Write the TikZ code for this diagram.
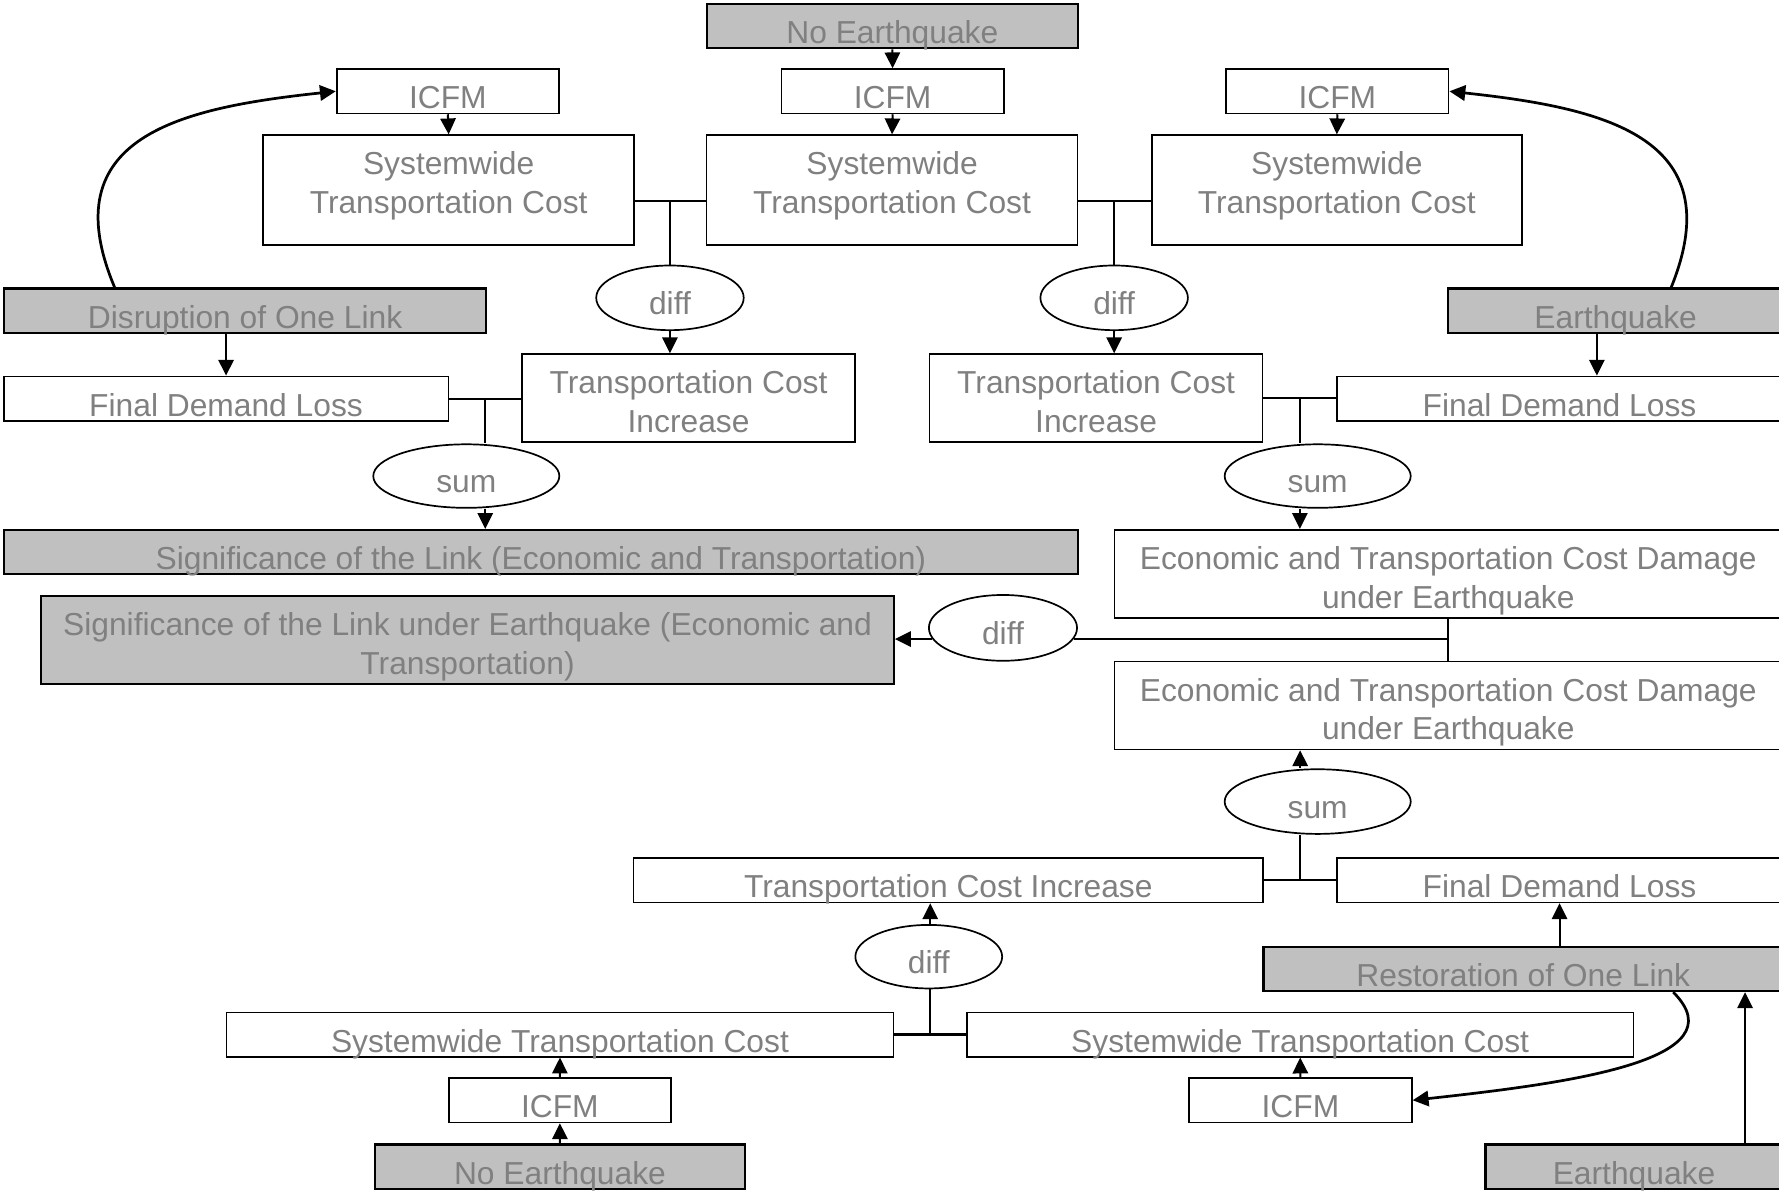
\documentclass[tikz,border=0pt]{standalone}
\usepackage{fontspec}
\setmainfont{Liberation Sans}
\usetikzlibrary{%
	arrows.meta,%
	shapes.geometric,%
	calc
}
\definecolor{txtgray}{RGB}{128,128,128}
\definecolor{boxgray}{RGB}{192,192,192}
\newcommand{\twolines}[2]{\vtop{\halign{\hfil##\hfil\cr #1\cr #2\cr}}}

\begin{document}
\begin{tikzpicture}[x=1pt,y=-1pt,
		box/.style={draw, rectangle, inner sep=0pt, line width=1.5pt, text=txtgray,
			text height=35pt, text depth=4pt, anchor=north west,
			font=\fontsize{28}{34}\selectfont},
		shaded/.style={box, fill=boxgray, line width=2pt},
		dbl/.style={text depth=42.5pt},
		tall/.style={text depth=61.6pt},
		op/.style={draw, ellipse, inner sep=0pt, line width=1.5pt, text=txtgray,
			text height=29pt, text depth=0pt, font=\fontsize{28}{34}\selectfont},
		link/.style={line width=2pt},
		arr/.style={-{Triangle[length=14pt,width=13.5pt]}, line width=1.8pt},
		sweep/.style={arr, line width=2.4pt}
	]
		\path[use as bounding box] (0,0) rectangle (1568,1050);
		\clip (0,0) rectangle (1568,1050);

		% Upper part: systemwide costs
		\node[shaded, minimum width=327pt] (noEqT) at (622,2.5) {No Earthquake};
		\node[box, minimum width=196pt] (icfmL) at (296,60.2) {ICFM};
		\node[box, minimum width=196pt] (icfmM) at (688,60.2) {ICFM};
		\node[box, minimum width=196pt] (icfmR) at (1080,60.2) {ICFM};
		\node[box, tall, minimum width=327pt] (swL) at (231.2,118.4) {\twolines{Systemwide}{Transportation Cost}};
		\node[box, tall, minimum width=327pt] (swM) at (622,118.4) {\twolines{Systemwide}{Transportation Cost}};
		\node[box, tall, minimum width=326pt] (swR) at (1014.5,118.4) {\twolines{Systemwide}{Transportation Cost}};
		\node[op, minimum width=130pt, minimum height=57pt] (diffL) at (590.5,262.5) {diff};
		\node[op, minimum width=130pt, minimum height=57pt] (diffR) at (982,262.5) {diff};

		% Link disruption and earthquake
		\node[shaded, minimum width=425pt] (disrupt) at (2.5,253.2) {Disruption of One Link};
		\node[shaded, minimum width=295pt] (eqT) at (1275.5,253.2) {Earthquake};
		\node[box, minimum width=392pt] (fdlL) at (2.5,331.1) {Final Demand Loss};
		\node[box, dbl, minimum width=293.5pt] (tciL) at (459.4,311.4) {\twolines{Transportation Cost}{Increase}};
		\node[box, dbl, minimum width=293.5pt] (tciR) at (818.6,311.4) {\twolines{Transportation Cost}{Increase}};
		\node[box, minimum width=392pt] (fdlR) at (1177.8,331.1) {Final Demand Loss};
		\node[op, minimum width=164pt, minimum height=56pt] (sumL) at (411,419.6) {sum};
		\node[op, minimum width=164pt, minimum height=56pt] (sumR) at (1161.4,419.6) {sum};

		% Significance
		\node[shaded, minimum width=946.5pt] (sigLink) at (2.5,466.2) {Significance of the Link (Economic and Transportation)};
		\node[box, dbl, minimum width=588.5pt] (econA) at (981.5,466.2) {\twolines{Economic and Transportation Cost Damage}{under Earthquake}};
		\node[shaded, dbl, minimum width=751.4pt] (sigEq) at (35.4,524.4) {\twolines{Significance of the Link under Earthquake (Economic and}{Transportation)}};
		\node[op, minimum width=130.6pt, minimum height=58pt] (diffM) at (884,553.4) {diff};
		\node[box, dbl, minimum width=588.5pt] (econB) at (981.5,582.3) {\twolines{Economic and Transportation Cost Damage}{under Earthquake}};

		% Lower part: restoration
		\node[op, minimum width=164pt, minimum height=57pt] (sumB) at (1161.4,706.5) {sum};
		\node[box, minimum width=555pt] (tciLong) at (557.6,755.6) {Transportation Cost Increase};
		\node[box, minimum width=392pt] (fdlB) at (1177.8,755.6) {Final Demand Loss};
		\node[op, minimum width=129.4pt, minimum height=56pt] (diffB) at (818.6,843.2) {diff};
		\node[shaded, minimum width=458pt] (restLink) at (1112.6,833.5) {Restoration of One Link};
		\node[box, minimum width=588pt] (swBL) at (198.8,891.6) {Systemwide Transportation Cost};
		\node[box, minimum width=587.4pt] (swBR) at (851.5,891.6) {Systemwide Transportation Cost};
		\node[box, minimum width=196pt] (icfmBL) at (394.7,949.5) {ICFM};
		\node[box, minimum width=196.3pt] (icfmBR) at (1047.3,949.5) {ICFM};
		\node[shaded, minimum width=326.3pt] (noEqB) at (329.4,1007.7) {No Earthquake};
		\node[shaded, minimum width=261.6pt] (eqB) at (1308.4,1007.7) {Earthquake};

		% Connectors, upper part
		\draw[arr] (noEqT.south) -- (icfmM.north);
		\draw[arr] (icfmL.south) -- (swL.north);
		\draw[arr] (icfmM.south) -- (swM.north);
		\draw[arr] (icfmR.south) -- (swR.north);
		\coordinate (jL) at ([yshift=-9.6pt]swL.east);
		\coordinate (jR) at ([yshift=-9.6pt]swM.east);
		\draw[link] (jL) -- (jL -| swM.west);
		\draw[link] (jR) -- (jR -| swR.west);
		\draw[link] (diffL.north |- jL) -- (diffL.north);
		\draw[link] (diffR.north |- jR) -- (diffR.north);
		\draw[arr] (diffL.south) -- (diffL.south |- tciL.north);
		\draw[arr] (diffR.south) -- (diffR.south |- tciR.north);

		% Scenarios feed the models
		\draw[sweep] ([xshift=-115pt]disrupt.north) .. controls (45,120) and (160,95) .. (icfmL.west);
		\draw[sweep] ([xshift=49pt]eqT.north) .. controls (1527,120) and (1412,95) .. (icfmR.east);
		\draw[arr] (disrupt.south -| fdlL.north) -- (fdlL.north);
		\draw[arr] ([xshift=-16.5pt]eqT.south) -- ([xshift=-16.5pt]eqT.south |- fdlR.north);

		% Sums
		\coordinate (kL) at ($(fdlL.east)!0.5!(tciL.west)$);
		\coordinate (kR) at ($(tciR.east)!0.5!(fdlR.west)$);
		\draw[link] (fdlL.east) -- (fdlL.east -| tciL.west);
		\draw[link] (tciR.east) -- (tciR.east -| fdlR.west);
		\draw[link] (kL) -- (kL |- sumL.north);
		\draw[link] (kR) -- (kR |- sumR.north);
		\draw[arr] (kL |- sumL.south) -- (kL |- sigLink.north);
		\draw[arr] (kR |- sumR.south) -- (kR |- econA.north);

		% Difference of the damages
		\draw[link] (econA.south) -- (econB.north);
		\draw[link] (diffM.-9) -- (diffM.-9 -| econA.south);
		\draw[arr] (diffM.189) -- (diffM.189 -| sigEq.east);

		% Connectors, lower part
		\coordinate (kB) at ($(tciLong.east)!0.5!(fdlB.west)$);
		\coordinate (kC) at ($(swBL.east)!0.5!(swBR.west)$);
		\draw[link] (tciLong.east) -- (tciLong.east -| fdlB.west);
		\draw[link] (kB) -- (kB |- sumB.south);
		\draw[arr] (kB |- sumB.north) -- (kB |- econB.south);
		\draw[link] (swBL.east) -- (swBL.east -| swBR.west);
		\draw[link] (kC) -- (kC |- diffB.south);
		\draw[arr] (kC |- diffB.north) -- (kC |- tciLong.south);
		\draw[arr] (noEqB.north) -- (icfmBL.south);
		\draw[arr] (icfmBL.north) -- (swBL.south);
		\draw[arr] (icfmBR.north) -- (swBR.south);
		\draw[arr] (restLink.north -| fdlB.south) -- (fdlB.south);
		\draw[arr] ([xshift=97.9pt]eqB.north) -- ([xshift=97.9pt]eqB.north |- restLink.south);
		\draw[sweep] ([xshift=132.2pt]restLink.south) .. controls (1535,935) and (1380,955) .. (icfmBR.east);
	\end{tikzpicture}
\end{document}
